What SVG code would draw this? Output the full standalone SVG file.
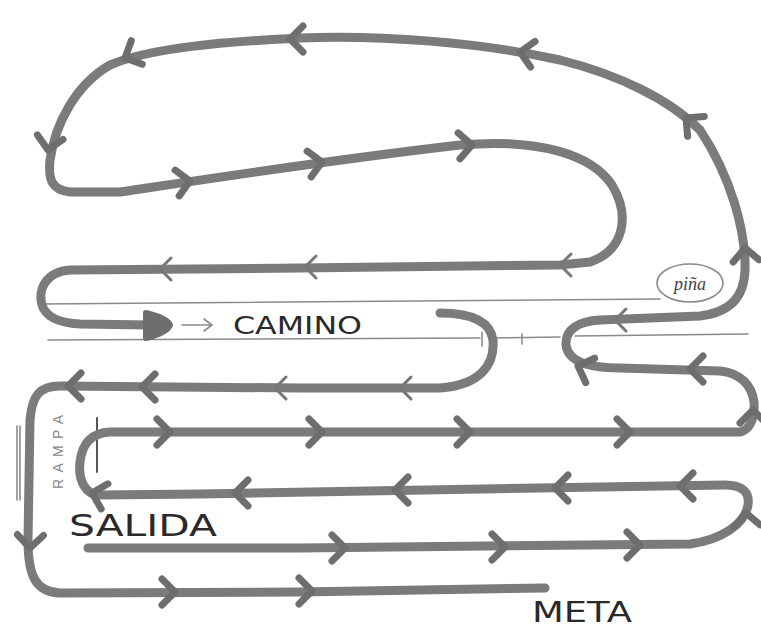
<svg xmlns="http://www.w3.org/2000/svg" xmlns:xlink="http://www.w3.org/1999/xlink" width="761" height="631" viewBox="0 0 761 631">
<style>
.route{fill:none;stroke:#7b7b7b;stroke-width:9;stroke-linecap:round;stroke-linejoin:round}
.pencil{fill:none;stroke:#8a8a8a;stroke-width:1.6;stroke-linecap:round}
.dark{fill:none;stroke:#555;stroke-width:2;stroke-linecap:round}
.label{font-family:"DejaVu Sans","Liberation Sans",sans-serif;fill:#2a2a2a}
.hand{font-family:"Liberation Serif",serif;font-style:italic}
</style>
<defs>
<path id="chev" d="M-13,-13 L0,0 L-13,13" fill="none" stroke="#6e6e6e" stroke-width="7" stroke-linecap="round" stroke-linejoin="round"/>
<path id="chevT" d="M-11,-11 L0,0 L-11,11" fill="none" stroke="#777" stroke-width="3" stroke-linecap="round" stroke-linejoin="round"/>
</defs>
<rect width="761" height="631" fill="#ffffff"/>
<g id="pencil-lines">
<path class="pencil" d="M42,304 C200,302 400,300 660,299"/>
<path class="pencil" d="M48,340 C200,339 350,338 480,338 M490,338 L560,337 M575,336 C650,335 700,335 748,334"/>
<path class="pencil" d="M482,332 L482,346 M522,334 L522,344"/>
<path class="dark" d="M97,418 L97,472"/>
<path class="pencil" d="M17,426 L17,500 M20,426 L20,500" stroke-width="2"/>
<path class="pencil" d="M182,325 L210,325 M204,319 L212,325 L204,331"/>
</g>
<g id="connectors">
<path class="route" d="M88,548 L300,548 C450,547 600,546 690,544 C720,540 745,525 748,505 C750,492 742,485 725,485 L600,487 C450,489 300,492 200,494 L100,495 C85,495 78,480 80,462 C82,445 90,433 110,432 L740,432 C750,430 755,418 754,402 C752,385 740,373 720,371 L620,368 C590,368 568,362 566,345 C565,330 578,321 600,320 L700,316 C730,312 744,298 745,270 C746,230 730,175 700,130 C670,100 620,75 560,60 C480,42 380,35 300,38 C220,42 150,48 110,65 C75,85 55,125 50,160 C48,180 52,190 70,192 L120,192 C200,180 330,160 460,145 C540,138 592,155 612,185 C630,215 625,250 590,262 L560,265 L300,268 L70,270 C45,272 38,290 42,305 C46,318 60,323 80,324 L150,325"/>
<path d="M146,313 C158,316 168,320 170,325 C168,331 158,335 146,338 Z" fill="#6e6e6e" stroke="#6e6e6e" stroke-width="6" stroke-linejoin="round"/>
<path class="route" d="M440,313 C470,313 490,320 493,340 C495,365 480,385 440,388 L300,388 L60,386 C40,386 32,395 30,420 L28,540 C28,575 35,592 60,593 L300,592 L545,588"/>
<use xlink:href="#chev" transform="translate(345,548)"/>
<use xlink:href="#chev" transform="translate(505,547)"/>
<use xlink:href="#chev" transform="translate(640,545)"/>
<use xlink:href="#chev" transform="translate(746,513) rotate(-95)"/>
<use xlink:href="#chev" transform="translate(680,486) rotate(180)"/>
<use xlink:href="#chev" transform="translate(555,488) rotate(180)"/>
<use xlink:href="#chev" transform="translate(395,490) rotate(180)"/>
<use xlink:href="#chev" transform="translate(235,493) rotate(180)"/>
<use xlink:href="#chev" transform="translate(92,493) rotate(195)"/>
<use xlink:href="#chev" transform="translate(170,432)"/>
<use xlink:href="#chev" transform="translate(322,432)"/>
<use xlink:href="#chev" transform="translate(470,432)"/>
<use xlink:href="#chev" transform="translate(630,432)"/>
<use xlink:href="#chev" transform="translate(753,410) rotate(-90)"/>
<use xlink:href="#chev" transform="translate(690,369) rotate(180)"/>
<use xlink:href="#chev" transform="translate(578,366) rotate(200)"/>
<use xlink:href="#chevT" transform="translate(615,320) rotate(180)"/>
<use xlink:href="#chev" transform="translate(745,248) rotate(-95)"/>
<use xlink:href="#chev" transform="translate(686,118) rotate(-140)"/>
<use xlink:href="#chev" transform="translate(520,52) rotate(-170)"/>
<use xlink:href="#chev" transform="translate(290,39) rotate(180)"/>
<use xlink:href="#chev" transform="translate(125,58) rotate(155)"/>
<use xlink:href="#chev" transform="translate(48,150) rotate(100)"/>
<use xlink:href="#chev" transform="translate(190,181) rotate(-9)"/>
<use xlink:href="#chev" transform="translate(322,162) rotate(-9)"/>
<use xlink:href="#chev" transform="translate(472,145) rotate(-4)"/>
<use xlink:href="#chevT" transform="translate(560,265) rotate(180)"/>
<use xlink:href="#chevT" transform="translate(305,267) rotate(180)"/>
<use xlink:href="#chevT" transform="translate(160,269) rotate(180)"/>
<use xlink:href="#chevT" transform="translate(400,388) rotate(180)"/>
<use xlink:href="#chevT" transform="translate(275,388) rotate(180)"/>
<use xlink:href="#chev" transform="translate(142,387) rotate(180)"/>
<use xlink:href="#chev" transform="translate(68,386) rotate(180)"/>
<use xlink:href="#chev" transform="translate(30,548) rotate(92)"/>
<use xlink:href="#chev" transform="translate(175,592)"/>
<use xlink:href="#chev" transform="translate(312,591)"/>
</g>
<g id="pina">
<ellipse cx="690" cy="283" rx="33" ry="19" class="pencil" stroke="#555"/>
<text x="690" y="290" text-anchor="middle" class="hand" font-size="18" fill="#444">piña</text>
</g>
<g id="rampa">
<text transform="translate(63,452) rotate(-90)" text-anchor="middle" font-family="Liberation Sans, sans-serif" font-size="14" fill="#888" textLength="74">RAMPA</text>
</g>
<g id="camino"><text x="233" y="334" class="label" font-size="25" textLength="129" lengthAdjust="spacingAndGlyphs">CAMINO</text></g>
<g id="salida"><text x="69" y="536" class="label" font-size="31" textLength="148" lengthAdjust="spacingAndGlyphs">SALIDA</text></g>
<g id="meta"><text x="532" y="622" class="label" font-size="28" textLength="100" lengthAdjust="spacingAndGlyphs">META</text></g>
</svg>
